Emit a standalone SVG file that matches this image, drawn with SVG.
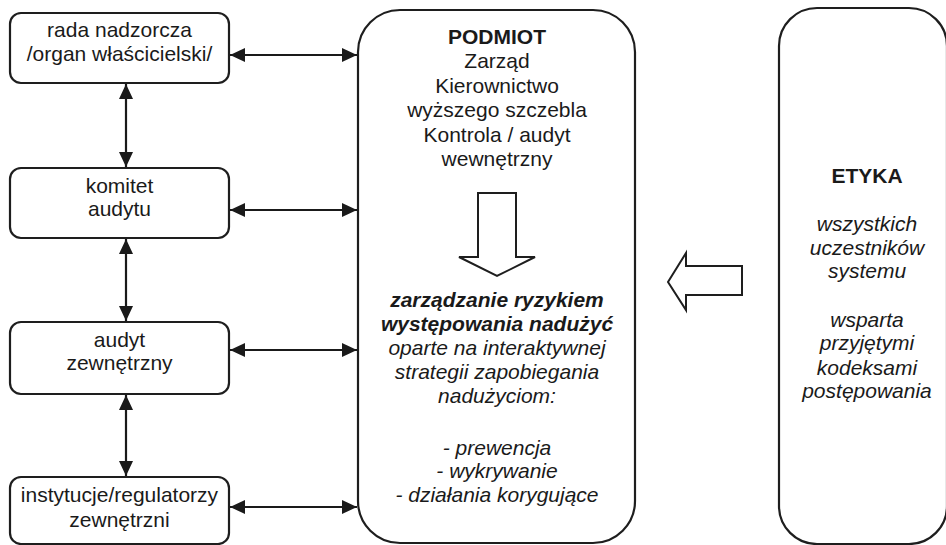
<svg xmlns="http://www.w3.org/2000/svg" width="946" height="545" viewBox="0 0 946 545">
<defs>
<style>
.box{fill:#fff;stroke:#1e1e1e;stroke-width:2.2}
.blk{fill:#fff;stroke:#1e1e1e;stroke-width:2}
.t{font-family:"Liberation Sans",Arial,sans-serif;font-size:21px;fill:#1a1a1a;text-anchor:middle}
.b{font-weight:bold}
.i{font-style:italic}
.con{stroke:#1a1a1a;stroke-width:2.2;fill:none;marker-start:url(#ah);marker-end:url(#ah)}
</style>
<marker id="ah" viewBox="0 0 15 14" refX="15" refY="7" markerWidth="15" markerHeight="14" markerUnits="userSpaceOnUse" orient="auto-start-reverse">
<path d="M0,0 L15,7 L0,14 z" fill="#1a1a1a"/>
</marker>
</defs>
<rect width="946" height="545" fill="#fff"/>
<g id="rada">
<rect class="box" x="10" y="13" width="219" height="70" rx="11"/>
<text class="t" x="119.5" y="37">rada nadzorcza</text>
<text class="t" x="119.5" y="61">/organ właścicielski/</text>
</g>
<g id="komitet">
<rect class="box" x="10" y="168" width="219" height="70" rx="11"/>
<text class="t" x="119.5" y="193">komitet</text>
<text class="t" x="119.5" y="216">audytu</text>
</g>
<g id="audyt">
<rect class="box" x="10" y="322" width="219" height="72" rx="11"/>
<text class="t" x="119.5" y="347">audyt</text>
<text class="t" x="119.5" y="370">zewnętrzny</text>
</g>
<g id="instytucje">
<rect class="box" x="10" y="477" width="219" height="67" rx="11"/>
<text class="t" x="119.5" y="502">instytucje/regulatorzy</text>
<text class="t" x="119.5" y="527">zewnętrzni</text>
</g>
<g id="podmiot">
<rect class="box" x="358" y="10" width="277" height="533" rx="42"/>
<text class="t b" x="497" y="44">PODMIOT</text>
<text class="t" x="497" y="68">Zarząd</text>
<text class="t" x="497" y="93">Kierownictwo</text>
<text class="t" x="497" y="117">wyższego szczebla</text>
<text class="t" x="497" y="142">Kontrola / audyt</text>
<text class="t" x="497" y="166">wewnętrzny</text>
<text class="t b i" x="497" y="307">zarządzanie ryzykiem</text>
<text class="t b i" x="497" y="331">występowania nadużyć</text>
<text class="t i" x="497" y="355">oparte na interaktywnej</text>
<text class="t i" x="497" y="379">strategii zapobiegania</text>
<text class="t i" x="497" y="403">nadużyciom:</text>
<text class="t i" x="497" y="455">- prewencja</text>
<text class="t i" x="497" y="478">- wykrywanie</text>
<text class="t i" x="497" y="502">- działania korygujące</text>
</g>
<g id="etyka">
<rect class="box" x="779" y="8" width="168" height="536" rx="38"/>
<text class="t b" x="867" y="183">ETYKA</text>
<text class="t i" x="867" y="231">wszystkich</text>
<text class="t i" x="867" y="255">uczestników</text>
<text class="t i" x="867" y="278">systemu</text>
<text class="t i" x="867" y="327">wsparta</text>
<text class="t i" x="867" y="350">przyjętymi</text>
<text class="t i" x="867" y="375">kodeksami</text>
<text class="t i" x="867" y="398">postępowania</text>
</g>
<g id="connectors">
<line class="con" x1="126" y1="84" x2="126" y2="167"/>
<line class="con" x1="126" y1="239" x2="126" y2="321"/>
<line class="con" x1="126" y1="395" x2="126" y2="476"/>
<line class="con" x1="230" y1="55" x2="357" y2="55"/>
<line class="con" x1="230" y1="210" x2="357" y2="210"/>
<line class="con" x1="230" y1="350" x2="357" y2="350"/>
<line class="con" x1="230" y1="507" x2="357" y2="507"/>
<path id="arrow-down" class="blk" d="M478,193 L516,193 L516,257 L535,257 L497,276 L459,257 L478,257 Z"/>
<path id="arrow-left" class="blk" d="M742,266 L742,295 L686,295 L686,310 L668,282 L686,253 L686,266 Z"/>
</g>
</svg>
